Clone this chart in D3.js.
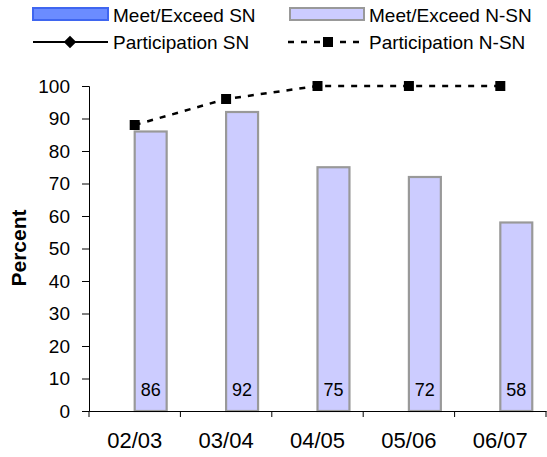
<!DOCTYPE html>
<html>
<head>
<meta charset="utf-8">
<script src="https://cdn.jsdelivr.net/npm/d3@7"></script>
<style>
  html, body { margin: 0; padding: 0; background: #fff; }
  svg { display: block; font-family: "Liberation Sans", Arial, sans-serif; }
</style>
</head>
<body>
<svg id="chart" width="547" height="457"></svg>
<script>
// ---- Data ----
const categories = ["02/03", "03/04", "04/05", "05/06", "06/07"];
const meetExceedSN = [null, null, null, null, null];
const meetExceedNSN = [86, 92, 75, 72, 58];
const participationSN = [null, null, null, null, null];
const participationNSN = [88, 96, 100, 100, 100];
const yTicks = [0, 10, 20, 30, 40, 50, 60, 70, 80, 90, 100];
const seriesNames = ["Meet/Exceed SN", "Meet/Exceed N-SN", "Participation SN", "Participation N-SN"];

const svg = d3.select("#chart");

const plot = { left: 89, right: 546, top: 86, bottom: 411 };

const x = d3.scaleBand().domain(categories).range([plot.left, plot.right]).paddingInner(0).paddingOuter(0);
const xs = d3.scaleBand().domain(["SN", "N-SN"]).range([0, x.bandwidth()]).paddingInner(0).paddingOuter(0.43);
const y = d3.scaleLinear().domain([0, 100]).range([plot.bottom, plot.top]);

// Bars N-SN
const barData = categories.map((c, i) => ({ c, v: meetExceedNSN[i] }));
svg.append("g").selectAll("rect").data(barData).join("rect")
  .attr("x", d => x(d.c) + xs("N-SN"))
  .attr("y", d => y(d.v))
  .attr("width", xs.bandwidth())
  .attr("height", d => y(0) - y(d.v))
  .attr("fill", "#ccccff")
  .attr("stroke", "#999999")
  .attr("stroke-width", 2.2);

// Bar labels
svg.append("g").selectAll("text").data(barData).join("text")
  .attr("x", d => x(d.c) + xs("N-SN") + xs.bandwidth() / 2)
  .attr("y", y(0) - 15)
  .attr("text-anchor", "middle")
  .attr("font-size", 18)
  .attr("fill", "#000")
  .text(d => d.v);

// Axes
const yAxis = d3.axisLeft(y).tickValues(yTicks).tickSize(7).tickPadding(12);
const gy = svg.append("g").attr("transform", `translate(${plot.left},0)`).call(yAxis);
gy.select(".domain").attr("stroke", "#000").attr("stroke-width", 1);
gy.selectAll(".tick line").attr("stroke", "#000");
gy.selectAll(".tick text").attr("font-size", 19).attr("font-family", "Liberation Sans, Arial, sans-serif").attr("fill", "#000");

const xAxis = d3.axisBottom(x).tickSize(0).tickPadding(21);
const gx = svg.append("g").attr("transform", `translate(0,${plot.bottom})`).call(xAxis);
gx.select(".domain").attr("stroke", "#000").attr("stroke-width", 1);
gx.selectAll(".tick text").attr("font-size", 22).attr("font-family", "Liberation Sans, Arial, sans-serif").attr("fill", "#000");
// category boundary ticks
const boundaries = categories.map(c => x(c)).concat([x(categories[categories.length - 1]) + x.bandwidth()]);
gx.append("g").selectAll("line").data(boundaries).join("line")
  .attr("x1", d => d).attr("x2", d => d)
  .attr("y1", 0).attr("y2", 6)
  .attr("stroke", "#000");

// Participation N-SN line
const lineData = categories.map((c, i) => ({ c, v: participationNSN[i] }));
const line = d3.line().x(d => x(d.c) + x.bandwidth() / 2).y(d => y(d.v));
svg.append("path").datum(lineData)
  .attr("d", line)
  .attr("fill", "none")
  .attr("stroke", "#000")
  .attr("stroke-width", 2.5)
  .attr("stroke-dasharray", "6,7");
svg.append("g").selectAll("rect").data(lineData).join("rect")
  .attr("x", d => x(d.c) + x.bandwidth() / 2 - 5)
  .attr("y", d => y(d.v) - 5)
  .attr("width", 10).attr("height", 10)
  .attr("fill", "#000");

// Y title
svg.append("text")
  .attr("transform", "translate(26,248) rotate(-90)")
  .attr("text-anchor", "middle")
  .attr("font-size", 21)
  .attr("font-weight", "bold")
  .text("Percent");

// Legend
const lg = svg.append("g");
lg.append("rect").attr("x", 33).attr("y", 8).attr("width", 75).attr("height", 12)
  .attr("fill", "#6b8cff").attr("stroke", "#3f66f0").attr("stroke-width", 2);
lg.append("text").attr("x", 113).attr("y", 21.5).attr("font-size", 19).text(seriesNames[0]);

lg.append("rect").attr("x", 290).attr("y", 8).attr("width", 74).attr("height", 12)
  .attr("fill", "#ccccff").attr("stroke", "#999999").attr("stroke-width", 2);
lg.append("text").attr("x", 369).attr("y", 21.5).attr("font-size", 19).text(seriesNames[1]);

lg.append("line").attr("x1", 33).attr("x2", 108).attr("y1", 42).attr("y2", 42)
  .attr("stroke", "#000").attr("stroke-width", 2);
lg.append("path").attr("d", d3.symbol(d3.symbolDiamond2, 100)()).attr("transform", "translate(70,42)").attr("fill", "#000");
lg.append("text").attr("x", 113).attr("y", 48.5).attr("font-size", 19).text(seriesNames[2]);

lg.append("line").attr("x1", 288).attr("x2", 364).attr("y1", 42).attr("y2", 42)
  .attr("stroke", "#000").attr("stroke-width", 2.5).attr("stroke-dasharray", "6,7");
lg.append("rect").attr("x", 323).attr("y", 37).attr("width", 10).attr("height", 10).attr("fill", "#000");
lg.append("text").attr("x", 369).attr("y", 48.5).attr("font-size", 19).text(seriesNames[3]);
</script>
</body>
</html>
